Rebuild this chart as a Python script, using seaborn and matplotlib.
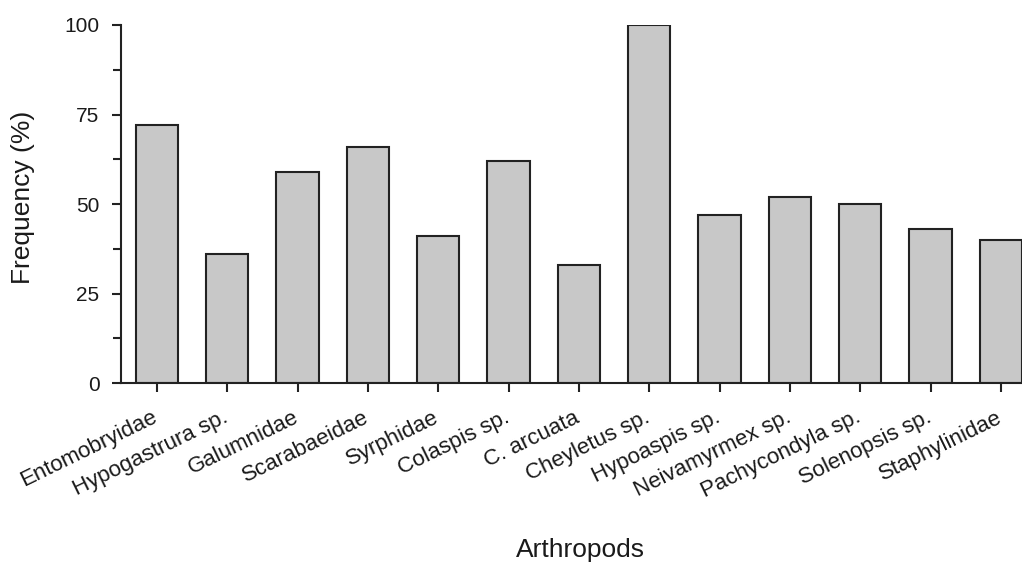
import matplotlib.pyplot as plt
import matplotlib.transforms as mtransforms
import seaborn as sns
from matplotlib.ticker import MultipleLocator

# Données
arthropods = ["Entomobryidae", "Hypogastrura sp.", "Galumnidae", "Scarabaeidae",
              "Syrphidae", "Colaspis sp.", "C. arcuata", "Cheyletus sp.",
              "Hypoaspis sp.", "Neivamyrmex sp.", "Pachycondyla sp.",
              "Solenopsis sp.", "Staphylinidae"]
frequency = [72, 36, 59, 66, 41, 62, 33, 100, 47, 52, 50, 43, 40]

sns.set_style("ticks")
plt.rcParams['font.family'] = ['Liberation Sans', 'DejaVu Sans']

fig = plt.figure(figsize=(10.22, 5.63), dpi=100)
ax = fig.add_axes([0.1184, 0.3197, 0.8816, 0.6359])

sns.barplot(x=arthropods, y=frequency, ax=ax, color="#c8c8c8", saturation=1,
            edgecolor="#222222", linewidth=1.5, width=0.6)

ax.set_xlim(-0.51, 12.3)
ax.set_ylim(0, 100)
ax.yaxis.set_major_locator(MultipleLocator(25))
ax.yaxis.set_minor_locator(MultipleLocator(12.5))
ax.tick_params(axis='both', which='major', direction='out', length=6.5, width=1.5,
               labelsize=15, color="#222222", labelcolor="#1a1a1a")
ax.tick_params(axis='y', which='major', pad=9)
ax.tick_params(axis='x', which='major', pad=5, labelsize=16)
ax.tick_params(axis='y', which='minor', direction='out', length=6, width=1.5,
               color="#222222")

# Étiquettes inclinées, légèrement décalées vers le bas et la gauche
decalage = mtransforms.ScaledTranslation(-5 / 100, -8 / 100, fig.dpi_scale_trans)
for lab in ax.get_xticklabels():
    lab.set_rotation(26)
    lab.set_ha('right')
    lab.set_rotation_mode('anchor')
    lab.set_transform(lab.get_transform() + decalage)

for s in ["top", "right"]:
    ax.spines[s].set_visible(False)
for s in ["left", "bottom"]:
    ax.spines[s].set_linewidth(1.5)
    ax.spines[s].set_color("#222222")

ax.set_ylabel("Frequency (%)", fontsize=19, color="#1a1a1a")
ax.set_xlabel("Arthropods", fontsize=19, color="#1a1a1a")
ax.yaxis.set_label_coords(-0.0955, 0.518)
ax.xaxis.set_label_coords(0.51, -0.433)

plt.savefig("out.png", dpi=100)
plt.close()
